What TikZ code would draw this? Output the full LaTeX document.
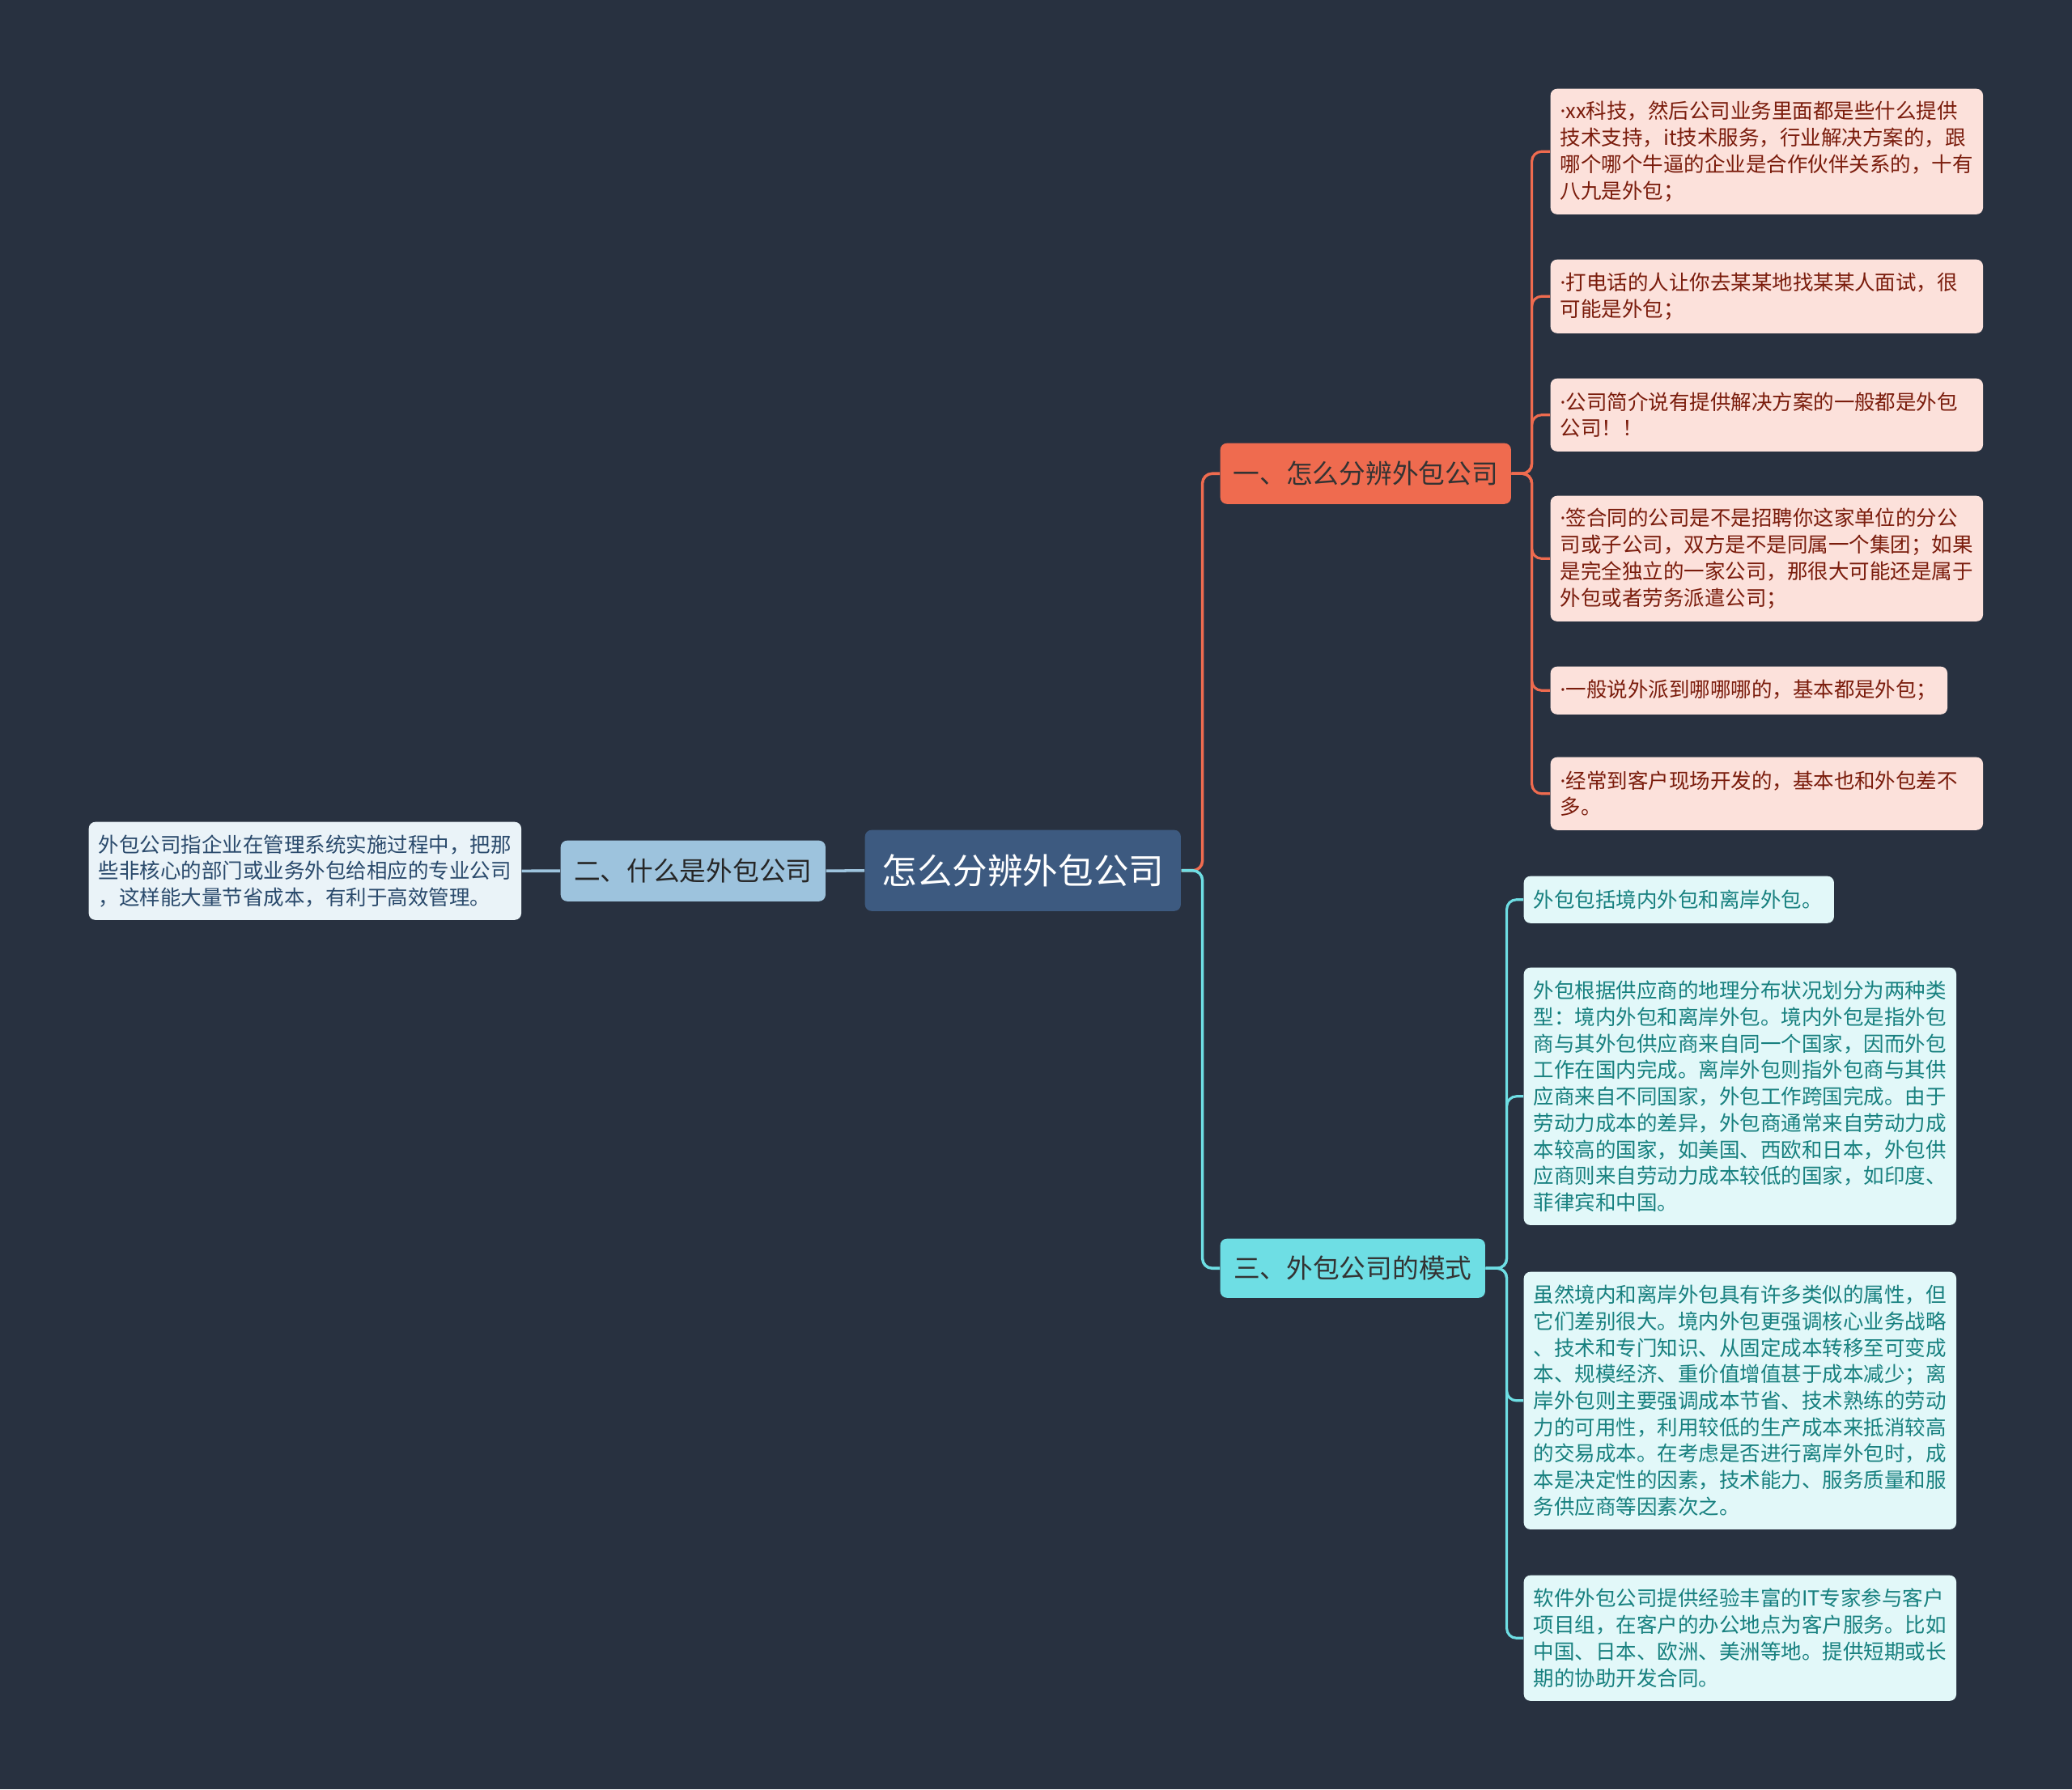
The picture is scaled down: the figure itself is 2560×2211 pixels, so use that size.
\documentclass[tikz,border=0pt]{standalone}
\usepackage{fontspec}
\newfontfamily\cjk{Noto Sans CJK SC}
\newfontfamily\latinfont{Noto Sans}
\usetikzlibrary{positioning,calc}

\definecolor{bgnavy}{HTML}{283140}
\definecolor{rootblue}{HTML}{3D5A80}
\definecolor{skyblue}{HTML}{9DC3DD}
\definecolor{paleblue}{HTML}{EAF3F8}
\definecolor{inkblue}{HTML}{2A4A6C}
\definecolor{coral}{HTML}{EF6B4F}
\definecolor{palecoral}{HTML}{FCE1DB}
\definecolor{inkred}{HTML}{7A1C0C}
\definecolor{aqua}{HTML}{6EDEE4}
\definecolor{paleaqua}{HTML}{E2F8F9}
\definecolor{inkteal}{HTML}{17807F}

\newcommand\leaffont{\cjk\fontsize{7.25}{9.3}\selectfont}
\newcommand\branchfont{\cjk\fontsize{9.3}{11}\selectfont}
\newcommand\tipdot{{\latinfont ·}}

\begin{document}
\begin{tikzpicture}[x=0.01cm, y=-0.01cm,
  root/.style={rectangle, rounded corners=0.08cm, fill=rootblue, text=white,
               font=\cjk\fontsize{12.4}{15}\selectfont, minimum width=3.9cm,
               minimum height=1.0cm, anchor=north west, inner sep=0pt},
  branch/.style={rectangle, rounded corners=0.08cm, font=\branchfont,
                 minimum height=0.75cm, anchor=north west, inner sep=0pt},
  leaf/.style={rectangle, rounded corners=0.08cm, font=\leaffont, align=left,
               text width=5.1cm, inner xsep=0.12cm, inner ysep=0pt,
               anchor=north west},
  redleaf/.style={leaf, fill=palecoral, text=inkred},
  tealleaf/.style={leaf, fill=paleaqua, text=inkteal},
  blueleaf/.style={leaf, fill=paleblue, text=inkblue},
  redline/.style={draw=coral, line width=1pt, rounded corners=0.12cm},
  tealline/.style={draw=aqua, line width=1pt, rounded corners=0.12cm},
  blueline/.style={draw=skyblue, line width=1pt},
]
  % background
  \fill[bgnavy] (0,0) rectangle (2560,2211);

  % ===== centre and left side =====
  \node[root] (root) at (1068,1025) {怎么分辨外包公司};
  \node[branch, fill=skyblue, text=black!85, minimum width=3.27cm]
       (what) at (692,1038) {二、什么是外包公司};
  \node[blueleaf, minimum height=1.21cm] (whatleaf) at (109,1015)
       {外包公司指企业在管理系统实施过程中，把那\\些非核心的部门或业务外包给相应的专业公司\\，这样能大量节省成本，有利于高效管理。};

  % ===== right side branches =====
  \node[branch, fill=coral, text=black!80, minimum width=3.59cm]
       (howto) at (1507,547) {一、怎么分辨外包公司};
  \node[branch, fill=aqua, text=black!80, minimum width=3.27cm,
        minimum height=0.73cm] (modes) at (1507,1530) {三、外包公司的模式};

  % tips for telling an outsourcer apart
  \node[redleaf, minimum height=1.55cm] (tip1) at (1915,109)
       {\tipdot xx科技，然后公司业务里面都是些什么提供\\技术支持，it技术服务，行业解决方案的，跟\\哪个哪个牛逼的企业是合作伙伴关系的，十有\\八九是外包；};
  \node[redleaf, minimum height=0.91cm] (tip2) at (1915,320)
       {\tipdot 打电话的人让你去某某地找某某人面试，很\\可能是外包；};
  \node[redleaf, minimum height=0.9cm] (tip3) at (1915,467)
       {\tipdot 公司简介说有提供解决方案的一般都是外包\\公司！！};
  \node[redleaf, minimum height=1.55cm] (tip4) at (1915,612)
       {\tipdot 签合同的公司是不是招聘你这家单位的分公\\司或子公司，双方是不是同属一个集团；如果\\是完全独立的一家公司，那很大可能还是属于\\外包或者劳务派遣公司；};
  \node[redleaf, text width=4.66cm, minimum height=0.59cm] (tip5) at (1915,823)
       {\tipdot 一般说外派到哪哪哪的，基本都是外包；};
  \node[redleaf, minimum height=0.9cm] (tip6) at (1915,935)
       {\tipdot 经常到客户现场开发的，基本也和外包差不\\多。};

  % outsourcing modes
  \node[tealleaf, text width=3.59cm, minimum height=0.58cm] (mode1) at (1882,1082)
       {外包包括境内外包和离岸外包。};
  \node[tealleaf, minimum height=3.18cm] (mode2) at (1882,1195)
       {外包根据供应商的地理分布状况划分为两种类\\型：境内外包和离岸外包。境内外包是指外包\\商与其外包供应商来自同一个国家，因而外包\\工作在国内完成。离岸外包则指外包商与其供\\应商来自不同国家，外包工作跨国完成。由于\\劳动力成本的差异，外包商通常来自劳动力成\\本较高的国家，如美国、西欧和日本，外包供\\应商则来自劳动力成本较低的国家，如印度、\\菲律宾和中国。};
  \node[tealleaf, minimum height=3.18cm] (mode3) at (1882,1571)
       {虽然境内和离岸外包具有许多类似的属性，但\\它们差别很大。境内外包更强调核心业务战略\\、技术和专门知识、从固定成本转移至可变成\\本、规模经济、重价值增值甚于成本减少；离\\岸外包则主要强调成本节省、技术熟练的劳动\\力的可用性，利用较低的生产成本来抵消较高\\的交易成本。在考虑是否进行离岸外包时，成\\本是决定性的因素，技术能力、服务质量和服\\务供应商等因素次之。};
  \node[tealleaf, minimum height=1.55cm] (mode4) at (1882,1946)
       {软件外包公司提供经验丰富的IT专家参与客户\\项目组，在客户的办公地点为客户服务。比如\\中国、日本、欧洲、美洲等地。提供短期或长\\期的协助开发合同。};

  % ===== connectors =====
  \draw[blueline] (root.west) -- (what.east);
  \draw[blueline] (what.west) -- (whatleaf.east);

  \draw[redline] (root.east) -- ++(26,0) |- (howto.west);
  \draw[tealline] (root.east) -- ++(26,0) |- (modes.west);

  \foreach \i in {1,...,6}
    \draw[redline, line width=0.9pt] (howto.east) -- ++(25,0) |- (tip\i.west);
  \foreach \i in {1,...,4}
    \draw[tealline, line width=0.9pt] (modes.east) -- ++(26,0) |- (mode\i.west);

\end{tikzpicture}
\end{document}
